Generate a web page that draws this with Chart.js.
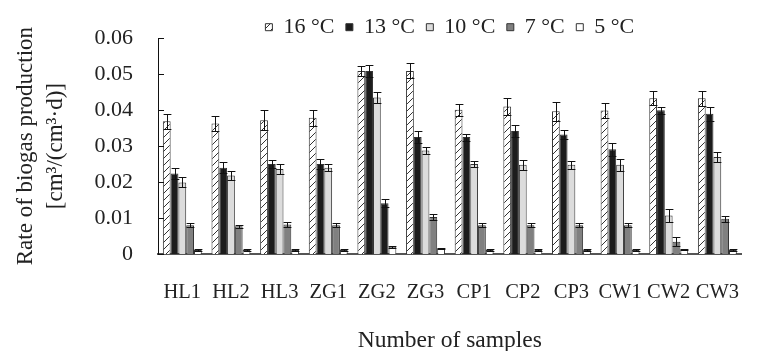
<!DOCTYPE html>
<html>
<head>
<meta charset="utf-8">
<script src="https://cdn.jsdelivr.net/npm/chart.js@4"></script>
<style>
  html, body { margin: 0; padding: 0; background: #fff; }
  #wrap { width: 766px; height: 351px; }
</style>
</head>
<body>
<div id="wrap"><canvas id="myChart" width="766" height="351"></canvas></div>
<script>
// data
const samples = ['HL1', 'HL2', 'HL3', 'ZG1', 'ZG2', 'ZG3', 'CP1', 'CP2', 'CP3', 'CW1', 'CW2', 'CW3'];
const temps = ['16 °C', '13 °C', '10 °C', '7 °C', '5 °C'];

const rate16 = [0.0369, 0.0363, 0.0372, 0.0379, 0.0509, 0.0509, 0.0401, 0.0410, 0.0397, 0.0399, 0.0433, 0.0433];
const err16  = [0.0021, 0.0022, 0.0027, 0.0022, 0.0014, 0.0021, 0.0017, 0.0023, 0.0027, 0.0022, 0.0019, 0.0021];
const rate13 = [0.0224, 0.0240, 0.0250, 0.0250, 0.0509, 0.0325, 0.0325, 0.0342, 0.0332, 0.0291, 0.0400, 0.0390];
const err13  = [0.0016, 0.0016, 0.0012, 0.0015, 0.0016, 0.0017, 0.0010, 0.0018, 0.0012, 0.0018, 0.0010, 0.0020];
const rate10 = [0.0199, 0.0218, 0.0236, 0.0240, 0.0435, 0.0288, 0.0250, 0.0248, 0.0248, 0.0248, 0.0107, 0.0270];
const err10  = [0.0014, 0.0013, 0.0014, 0.0010, 0.0015, 0.0010, 0.0009, 0.0014, 0.0011, 0.0017, 0.0019, 0.0014];
const rate7  = [0.0080, 0.0077, 0.0082, 0.0080, 0.0141, 0.0103, 0.0080, 0.0080, 0.0080, 0.0080, 0.0034, 0.0098];
const err7   = [0.0005, 0.0005, 0.0006, 0.0006, 0.0011, 0.0009, 0.0006, 0.0006, 0.0006, 0.0006, 0.0012, 0.0008];
const rate5  = [0.0011, 0.0011, 0.0011, 0.0011, 0.0020, 0.0016, 0.0011, 0.0011, 0.0011, 0.0011, 0.0013, 0.0011];
const err5   = [0.0002, 0.0002, 0.0002, 0.0002, 0.0002, 0.0002, 0.0002, 0.0002, 0.0002, 0.0002, 0.0002, 0.0002];

const yTicks = [0, 0.01, 0.02, 0.03, 0.04, 0.05, 0.06];

const serif = "'Liberation Serif', 'Times New Roman', serif";
const ink = '#222';

// diagonal hatch for the 16 °C bars
function hatch() {
    const c = document.createElement('canvas');
    c.width = 7; c.height = 7;
    const g = c.getContext('2d');
    g.fillStyle = '#fff';
    g.fillRect(0, 0, 7, 7);
    g.strokeStyle = '#333';
    g.lineWidth = 1;
    g.beginPath();
    g.moveTo(0, 7); g.lineTo(7, 0);
    g.moveTo(-1, 1); g.lineTo(1, -1);
    g.moveTo(6, 8); g.lineTo(8, 6);
    g.stroke();
    return g.createPattern(c, 'repeat');
}

// 7 °C bar of ZG2 is printed black in the figure
const fill7 = samples.map((s) => s === 'ZG2' ? '#1c1c1c' : '#808080');

const errorBars = {
    id: 'errorBars',
    afterDatasetsDraw(chart) {
        const ctx = chart.ctx;
        const y = chart.scales.y;
        ctx.save();
        ctx.strokeStyle = '#111';
        ctx.lineWidth = 1;
        chart.data.datasets.forEach((ds, i) => {
            const meta = chart.getDatasetMeta(i);
            meta.data.forEach((bar, j) => {
                const e = ds.errors[j];
                const top = Math.round(y.getPixelForValue(ds.data[j] + e)) + 0.5;
                const bot = Math.round(y.getPixelForValue(ds.data[j] - e)) + 0.5;
                const x = Math.round(bar.x) + 0.5;
                const hw = bar.width / 2;
                ctx.beginPath();
                ctx.moveTo(x, top); ctx.lineTo(x, bot);
                ctx.moveTo(x - hw, top); ctx.lineTo(x + hw, top);
                ctx.moveTo(x - hw, bot); ctx.lineTo(x + hw, bot);
                ctx.stroke();
            });
        });
        ctx.restore();
    }
};

// short tick marks pointing into the plot
const innerTicks = {
    id: 'innerTicks',
    afterDraw(chart) {
        const ctx = chart.ctx;
        const y = chart.scales.y;
        const left = chart.chartArea.left;
        ctx.save();
        ctx.strokeStyle = '#111';
        ctx.lineWidth = 1;
        ctx.beginPath();
        y.ticks.forEach((t) => {
            const py = Math.round(y.getPixelForValue(t.value)) + 0.5;
            ctx.moveTo(left, py);
            ctx.lineTo(left + 6, py);
        });
        ctx.stroke();
        ctx.restore();
    }
};

const series = [rate16, rate13, rate10, rate7, rate5];
const errs = [err16, err13, err10, err7, err5];
const fills = [hatch(), '#1c1c1c', '#dcdcdc', fill7, '#ffffff'];

var ctx = document.getElementById('myChart').getContext('2d');
var chart = new Chart(ctx, {
    type: 'bar',
    data: {
        labels: samples,
        datasets: temps.map((t, i) => ({
            label: t,
            data: series[i],
            errors: errs[i],
            backgroundColor: fills[i],
            borderColor: '#333',
            borderWidth: 1,
            categoryPercentage: 0.8,
            barPercentage: 1.0
        }))
    },
    options: {
        responsive: false,
        animation: false,
        layout: { padding: { top: 8, right: 10, left: 0, bottom: 0 } },
        plugins: {
            tooltip: { enabled: false },
            legend: {
                position: 'top',
                fullSize: false,
                maxHeight: 28,
                labels: {
                    boxWidth: 7,
                    boxHeight: 7,
                    padding: 6,
                    color: ink,
                    font: { family: serif, size: 22 },
                    generateLabels(chart) {
                        const n = chart.data.datasets.length;
                        return chart.data.datasets.map((ds, i) => ({
                            text: i < n - 1 ? ds.label + ' ' : ds.label,
                            fillStyle: i === 3 ? '#808080' : ds.backgroundColor,
                            strokeStyle: '#333',
                            lineWidth: 1,
                            fontColor: ink,
                            datasetIndex: i
                        }));
                    }
                }
            }
        },
        scales: {
            x: {
                afterFit(scale) { scale.height = 97; },
                grid: { display: false, drawTicks: false, tickLength: 0 },
                border: { display: true, color: '#555', width: 2 },
                ticks: { color: ink, padding: 26, maxRotation: 0, font: { family: serif, size: 20.5 } },
                title: {
                    display: true,
                    text: 'Number of samples',
                    color: ink,
                    font: { family: serif, size: 23.5, lineHeight: 1 },
                    padding: { top: 20, bottom: -2 }
                }
            },
            y: {
                min: 0,
                max: 0.06,
                afterBuildTicks(scale) {
                    scale.ticks = yTicks.map((v) => ({ value: v }));
                },
                afterFit(scale) { scale.width = 158; },
                grid: { display: false, drawTicks: false, tickLength: 0 },
                border: { display: true, color: '#111', width: 1 },
                ticks: {
                    color: ink,
                    padding: 25,
                    font: { family: serif, size: 22 },
                    callback: (v) => v === 0 ? '0' : v.toFixed(2)
                },
                title: {
                    display: true,
                    text: ['Rate of biogas production', '[cm³/(cm³·d)]'],
                    color: ink,
                    font: { family: serif, size: 23, lineHeight: 1.3 },
                    padding: { top: 11, bottom: 0 }
                }
            }
        }
    },
    plugins: [errorBars, innerTicks]
});
</script>
</body>
</html>
